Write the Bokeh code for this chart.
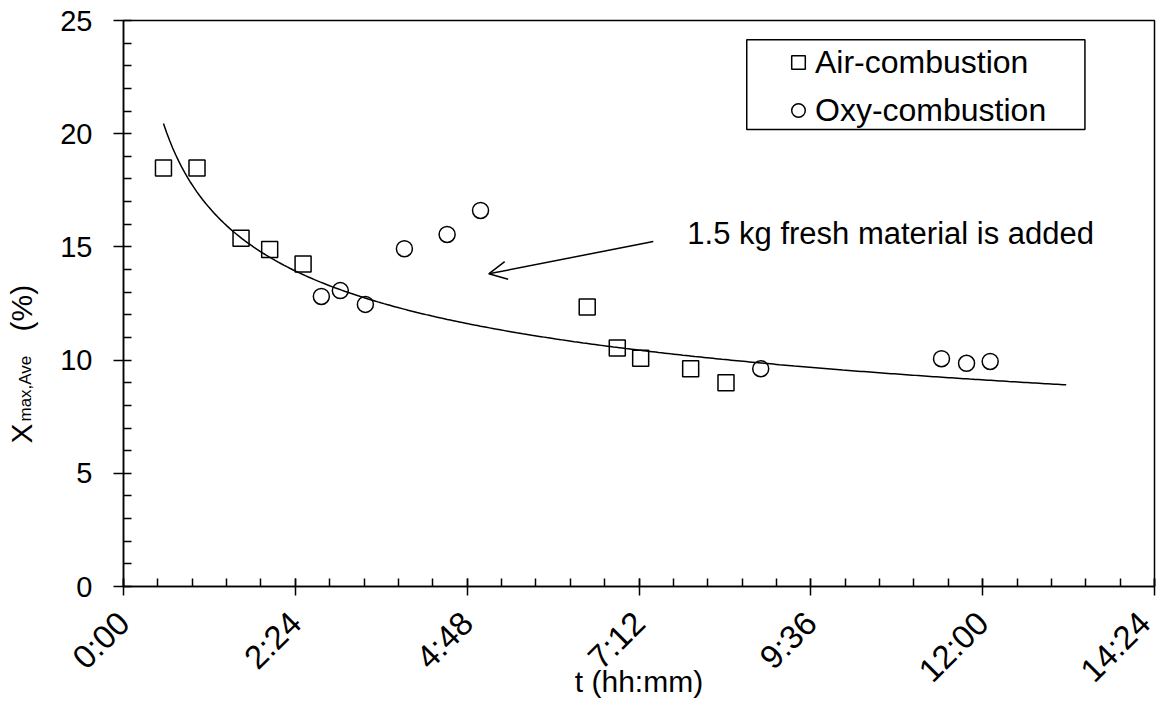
import numpy as np
from math import pi
from bokeh.plotting import figure
from bokeh.layouts import row
from bokeh.core.properties import value
from bokeh.models import (FixedTicker, Legend, LegendItem, Label, Arrow,
                          OpenHead, Range1d, BoxAnnotation)
from bokeh.embed import file_html
from bokeh.resources import INLINE

FONT = "Liberation Sans"

# ---- data (time in minutes since start, X_max,Ave in %) ----
air_t = [33.5, 61.6, 98.5, 122.5, 150.5, 388.6, 413.8, 433.4, 475.3, 504.9]
air_x = [18.49, 18.49, 15.38, 14.89, 14.25, 12.34, 10.53, 10.08, 9.62, 9.00]

oxy_t = [165.8, 181.7, 202.7, 235.4, 271.2, 299.2, 534.0, 685.5, 706.5, 726.3]
oxy_x = [12.81, 13.07, 12.46, 14.92, 15.55, 16.61, 9.62, 10.06, 9.86, 9.94]

# power-law trendline y = a * t^b (coefficients)
trend_a = 51.5
trend_b = -0.263
trend_t_start = 33.5
trend_t_end = 790.0

x_tick_values = [0, 144, 288, 432, 576, 720, 864]
x_tick_labels = ["0:00", "2:24", "4:48", "7:12", "9:36", "12:00", "14:24"]
y_tick_values = [0, 5, 10, 15, 20, 25]

annotation_text = "1.5 kg fresh material is added"
annotation_t, annotation_x = 472.5, 15.58
arrow_tail_t, arrow_tail_x = 444.0, 15.24
arrow_head_t, arrow_head_x = 306.1, 13.81

TITLE_W = 50
TOP, BOTTOM = 20, 127

# ---- y-axis title panel (separate narrow figure, pixel coordinates) ----
tp = figure(width=TITLE_W, height=713, x_range=Range1d(0, TITLE_W),
            y_range=Range1d(713 - BOTTOM, TOP), output_backend="svg",
            toolbar_location=None, x_axis_location=None, y_axis_location=None,
            min_border_left=0, min_border_right=0,
            min_border_top=TOP, min_border_bottom=BOTTOM)
tp.outline_line_color = None
tp.xgrid.visible = False
tp.ygrid.visible = False
tp.background_fill_color = "white"
tp.border_fill_color = "white"
tp.text(x=[21], y=[443], text=["X"], angle=pi / 2,
        text_font=value(FONT), text_font_size="30px", text_color="black",
        text_baseline="alphabetic", text_align="left")
tp.text(x=[25], y=[421], text=["max,Ave"], angle=pi / 2,
        text_font=value(FONT), text_font_size="17px", text_color="black",
        text_baseline="alphabetic", text_align="left")
tp.text(x=[21], y=[331], text=["(%)"], angle=pi / 2,
        text_font=value(FONT), text_font_size="30px", text_color="black",
        text_baseline="alphabetic", text_align="left")

# ---- main figure ----
p = figure(width=1157 - TITLE_W, height=713,
           x_range=Range1d(0, 864), y_range=Range1d(0, 25),
           output_backend="svg", toolbar_location=None,
           min_border_left=123 - TITLE_W, min_border_right=3,
           min_border_top=TOP, min_border_bottom=BOTTOM)
p.background_fill_color = "white"
p.border_fill_color = "white"
p.xgrid.visible = False
p.ygrid.visible = False
p.outline_line_color = "black"
p.outline_line_width = 1.5

x_minor = list(np.arange(0, 864.01, 28.8))
p.xaxis.ticker = FixedTicker(ticks=x_tick_values, minor_ticks=x_minor)
p.xaxis.major_label_overrides = {v: l for v, l in zip(x_tick_values, x_tick_labels)}
p.yaxis.ticker = FixedTicker(ticks=y_tick_values, minor_ticks=list(range(0, 26)))

for ax in (p.xaxis[0], p.yaxis[0]):
    ax.axis_line_color = "black"
    ax.axis_line_width = 1.5
    ax.major_tick_line_color = "black"
    ax.major_tick_line_width = 1.5
    ax.minor_tick_line_color = "black"
    ax.minor_tick_line_width = 1.5
    ax.major_label_text_font = FONT
    ax.major_label_text_color = "black"

p.xaxis.major_label_text_font_size = "33px"
p.yaxis.major_label_text_font_size = "29px"

p.xaxis.major_tick_out = 9
p.xaxis.major_tick_in = 8
p.xaxis.minor_tick_in = 8
p.xaxis.minor_tick_out = 0
p.xaxis.major_label_orientation = pi / 4
p.xaxis.major_label_standoff = 22
p.xaxis.axis_label = "t (hh:mm)"
p.xaxis.axis_label_text_font = FONT
p.xaxis.axis_label_text_font_size = "30px"
p.xaxis.axis_label_text_font_style = "normal"
p.xaxis.axis_label_text_color = "black"
p.xaxis.axis_label_standoff = -40

p.yaxis.major_tick_out = 10
p.yaxis.major_tick_in = 0
p.yaxis.minor_tick_in = 8
p.yaxis.minor_tick_out = 0
p.yaxis.major_label_standoff = 21

# ---- trendline ----
tt = np.linspace(trend_t_start, trend_t_end, 300)
p.line(tt, trend_a * tt ** trend_b, line_color="black", line_width=1.5)

# ---- data points ----
r_air = p.scatter(air_t, air_x, marker="square", size=16, fill_alpha=0,
                  line_color="black", line_width=1.5)
r_oxy = p.scatter(oxy_t, oxy_x, marker="circle", size=16, fill_alpha=0,
                  line_color="black", line_width=1.5)

# ---- annotation ----
p.add_layout(Arrow(end=OpenHead(size=18, line_width=1.5, line_color="black"),
                   x_start=arrow_tail_t, y_start=arrow_tail_x,
                   x_end=arrow_head_t, y_end=arrow_head_x,
                   line_width=1.5, line_color="black"))
p.add_layout(Label(x=annotation_t, y=annotation_x, text=annotation_text,
                   text_font=FONT, text_font_size="31px", text_color="black",
                   text_baseline="alphabetic", text_align="left"))

# ---- legend (frame drawn as a box behind it) ----
p.add_layout(BoxAnnotation(left=522.3, right=805.7, bottom=20.19, top=24.15,
                           fill_color="white", fill_alpha=1,
                           line_color="black", line_width=1.5, line_alpha=1))
legend = Legend(items=[LegendItem(label="Air-combustion", renderers=[r_air]),
                       LegendItem(label="Oxy-combustion", renderers=[r_oxy])],
                location=(654, 453), glyph_width=34, glyph_height=38,
                label_height=38, label_standoff=0,
                padding=4, spacing=10, margin=0,
                label_text_font=FONT, label_text_font_size="32px",
                label_text_color="black",
                border_line_alpha=0, background_fill_alpha=0)
p.add_layout(legend)

layout = row(tp, p, spacing=0)
open("out.html", "w").write(file_html(layout, INLINE))
